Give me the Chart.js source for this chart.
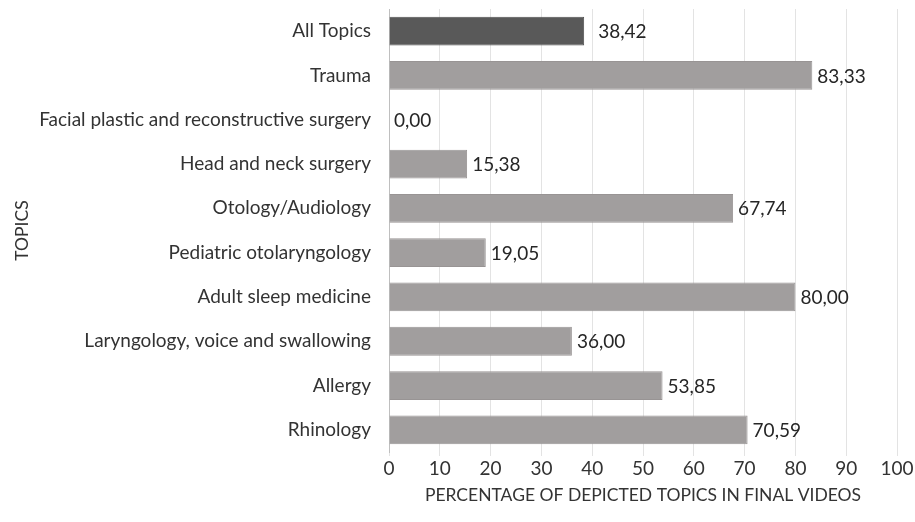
<!DOCTYPE html>
<html>
<head>
<meta charset="utf-8">
<script src="https://cdn.jsdelivr.net/npm/chart.js@4.4.1/dist/chart.umd.min.js"></script>
<style>
  html, body { margin: 0; padding: 0; background: #fff; }
  #wrap { width: 915px; height: 522px; }
</style>
</head>
<body>
<div id="wrap"><canvas id="topicsChart"></canvas></div>
<script>
const topics = [
    'All Topics',
    'Trauma',
    'Facial plastic and reconstructive surgery',
    'Head and neck surgery',
    'Otology/Audiology',
    'Pediatric otolaryngology',
    'Adult sleep medicine',
    'Laryngology, voice and swallowing',
    'Allergy',
    'Rhinology'
];
const percentages = [38.42, 83.33, 0.00, 15.38, 67.74, 19.05, 80.00, 36.00, 53.85, 70.59];
const xTicks = [0, 10, 20, 30, 40, 50, 60, 70, 80, 90, 100];

const fontFamily = "Lato, 'Noto Sans', sans-serif";
const fontSize = 19;
const titleSize = 17.5;

// value text to the right of each bar, decimal comma;
// the summary bar (first) sits a bit further out
const valueLabels = {
    id: 'valueLabels',
    afterDatasetsDraw(chart) {
        const ctx = chart.ctx;
        const meta = chart.getDatasetMeta(0);
        ctx.save();
        ctx.font = fontSize + 'px ' + fontFamily;
        ctx.fillStyle = '#262626';
        ctx.textAlign = 'left';
        ctx.textBaseline = 'middle';
        meta.data.forEach((bar, i) => {
            const txt = percentages[i].toFixed(2).replace('.', ',');
            const gap = i === 0 ? 14 : 5;
            ctx.fillText(txt, bar.x + gap, bar.y + 1);
        });
        ctx.restore();
    }
};

const ctx = document.getElementById('topicsChart').getContext('2d');
const topicsChart = new Chart(ctx, {
    type: 'bar',
    data: {
        labels: topics,
        datasets: [{
            data: percentages,
            backgroundColor: topics.map((t, i) => i === 0 ? '#595959' : '#a19e9e'),
            borderColor: topics.map((t, i) => i === 0 ? '#505050' : '#989494'),
            borderWidth: 1,
            barPercentage: 0.65,
            categoryPercentage: 1
        }]
    },
    options: {
        indexAxis: 'y',
        responsive: true,
        maintainAspectRatio: false,
        animation: false,
        layout: { autoPadding: false, padding: { top: 9, right: 18, left: 12, bottom: 0 } },
        plugins: {
            legend: { display: false },
            tooltip: { enabled: false }
        },
        scales: {
            x: {
                min: 0,
                max: 100,
                afterBuildTicks: (axis) => { axis.ticks = xTicks.map(v => ({ value: v })); },
                grid: { color: '#e3e3e3', drawTicks: true, tickLength: 4 },
                border: { display: false },
                ticks: {
                    color: '#333',
                    font: { family: fontFamily, size: fontSize },
                    padding: 1
                },
                title: {
                    display: true,
                    text: 'PERCENTAGE OF DEPICTED TOPICS IN FINAL VIDEOS',
                    color: '#333',
                    font: { family: fontFamily, size: titleSize },
                    padding: { top: 4, bottom: 16 }
                },
                afterFit: (s) => { s.height = 70; s.paddingLeft = 0; s.paddingRight = 0; }
            },
            y: {
                grid: { display: false, drawTicks: false },
                border: { display: true, color: '#bfbfbf', width: 1 },
                ticks: {
                    color: '#333',
                    font: { family: fontFamily, size: fontSize },
                    padding: 18
                },
                title: {
                    display: true,
                    text: 'TOPICS',
                    color: '#333',
                    font: { family: fontFamily, size: titleSize },
                    padding: { top: 0, bottom: 4 }
                },
                afterFit: (s) => { s.width = 377; s.paddingTop = 0; s.paddingBottom = 0; }
            }
        }
    },
    plugins: [valueLabels]
});
</script>
</body>
</html>
